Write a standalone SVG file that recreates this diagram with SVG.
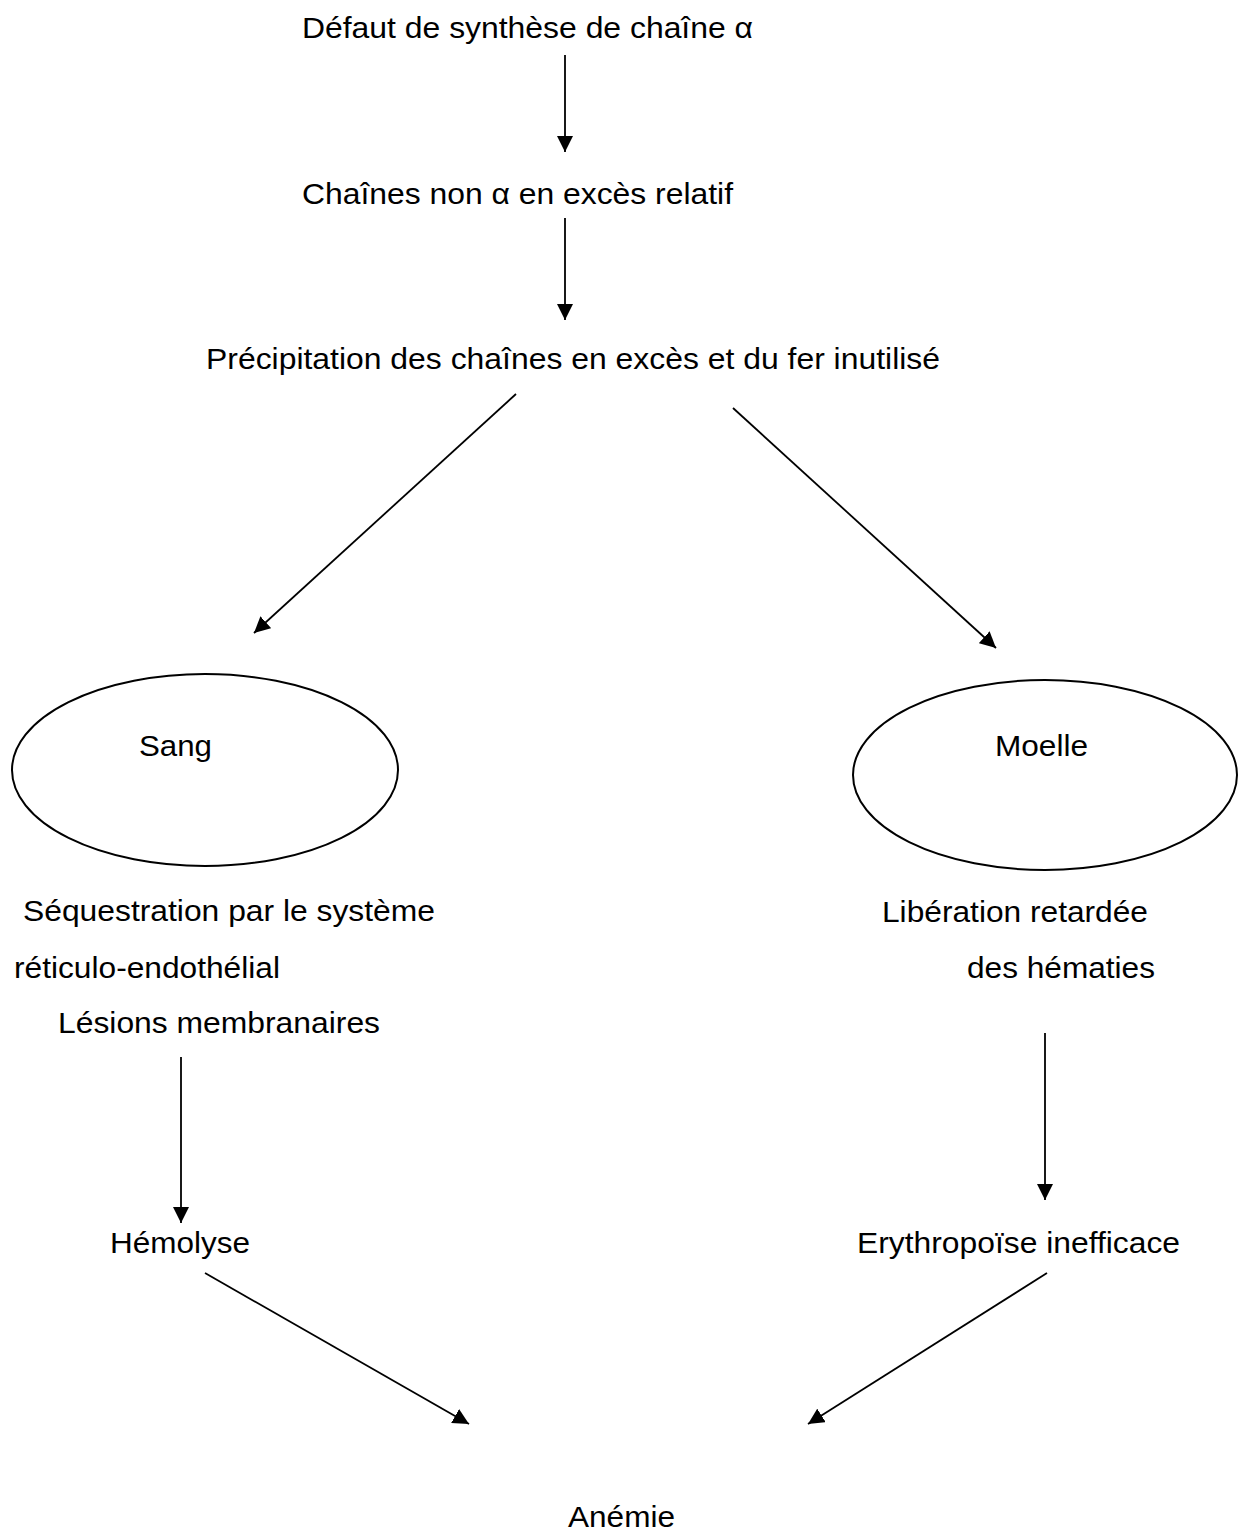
<svg xmlns="http://www.w3.org/2000/svg" width="1238" height="1533" viewBox="0 0 1238 1533">
<style>
text{font-family:"Liberation Sans",Arial,sans-serif;font-size:29px;fill:#000}
.c{stroke:#000;stroke-width:1.8;fill:none}
.e{stroke:#000;stroke-width:2;fill:#fff}
</style>
<defs>
<marker id="ah" markerUnits="userSpaceOnUse" markerWidth="18" markerHeight="16" refX="16" refY="8" orient="auto">
<path d="M0,0 L16,8 L0,16 z" fill="#000"/>
</marker>
</defs>
<rect width="1238" height="1533" fill="#fff"/>
<g id="connectors">
<line class="c" x1="565" y1="55" x2="565" y2="152" marker-end="url(#ah)"/>
<line class="c" x1="565" y1="218" x2="565" y2="320" marker-end="url(#ah)"/>
<line class="c" x1="516" y1="394" x2="254" y2="633" marker-end="url(#ah)"/>
<line class="c" x1="733" y1="408" x2="996" y2="648" marker-end="url(#ah)"/>
<line class="c" x1="181" y1="1057" x2="181" y2="1223" marker-end="url(#ah)"/>
<line class="c" x1="1045" y1="1033" x2="1045" y2="1200" marker-end="url(#ah)"/>
<line class="c" x1="205" y1="1273" x2="469" y2="1424" marker-end="url(#ah)"/>
<line class="c" x1="1047" y1="1273" x2="808" y2="1424" marker-end="url(#ah)"/>
</g>
<g id="n1"><text x="302" y="38" textLength="451" lengthAdjust="spacingAndGlyphs">Défaut de synthèse de chaîne α</text></g>
<g id="n2"><text x="302" y="204" textLength="431" lengthAdjust="spacingAndGlyphs">Chaînes non α en excès relatif</text></g>
<g id="n3"><text x="206" y="369" textLength="734" lengthAdjust="spacingAndGlyphs">Précipitation des chaînes en excès et du fer inutilisé</text></g>
<g id="sang"><ellipse class="e" cx="205" cy="770" rx="193" ry="96"/><text x="139" y="756" textLength="73" lengthAdjust="spacingAndGlyphs">Sang</text></g>
<g id="moelle"><ellipse class="e" cx="1045" cy="775" rx="192" ry="95"/><text x="995" y="756" textLength="93" lengthAdjust="spacingAndGlyphs">Moelle</text></g>
<g id="sequestration">
<text x="23" y="921" textLength="412" lengthAdjust="spacingAndGlyphs">Séquestration par le système</text>
<text x="14" y="978" textLength="266" lengthAdjust="spacingAndGlyphs">réticulo-endothélial</text>
<text x="58" y="1033" textLength="322" lengthAdjust="spacingAndGlyphs">Lésions membranaires</text>
</g>
<g id="liberation">
<text x="882" y="922" textLength="266" lengthAdjust="spacingAndGlyphs">Libération retardée</text>
<text x="967" y="978" textLength="188" lengthAdjust="spacingAndGlyphs">des hématies</text>
</g>
<g id="hemolyse"><text x="110" y="1253" textLength="140" lengthAdjust="spacingAndGlyphs">Hémolyse</text></g>
<g id="erythropoiese"><text x="857" y="1253" textLength="323" lengthAdjust="spacingAndGlyphs">Erythropoïse inefficace</text></g>
<g id="anemie"><text x="568" y="1527" textLength="107" lengthAdjust="spacingAndGlyphs">Anémie</text></g>
</svg>
